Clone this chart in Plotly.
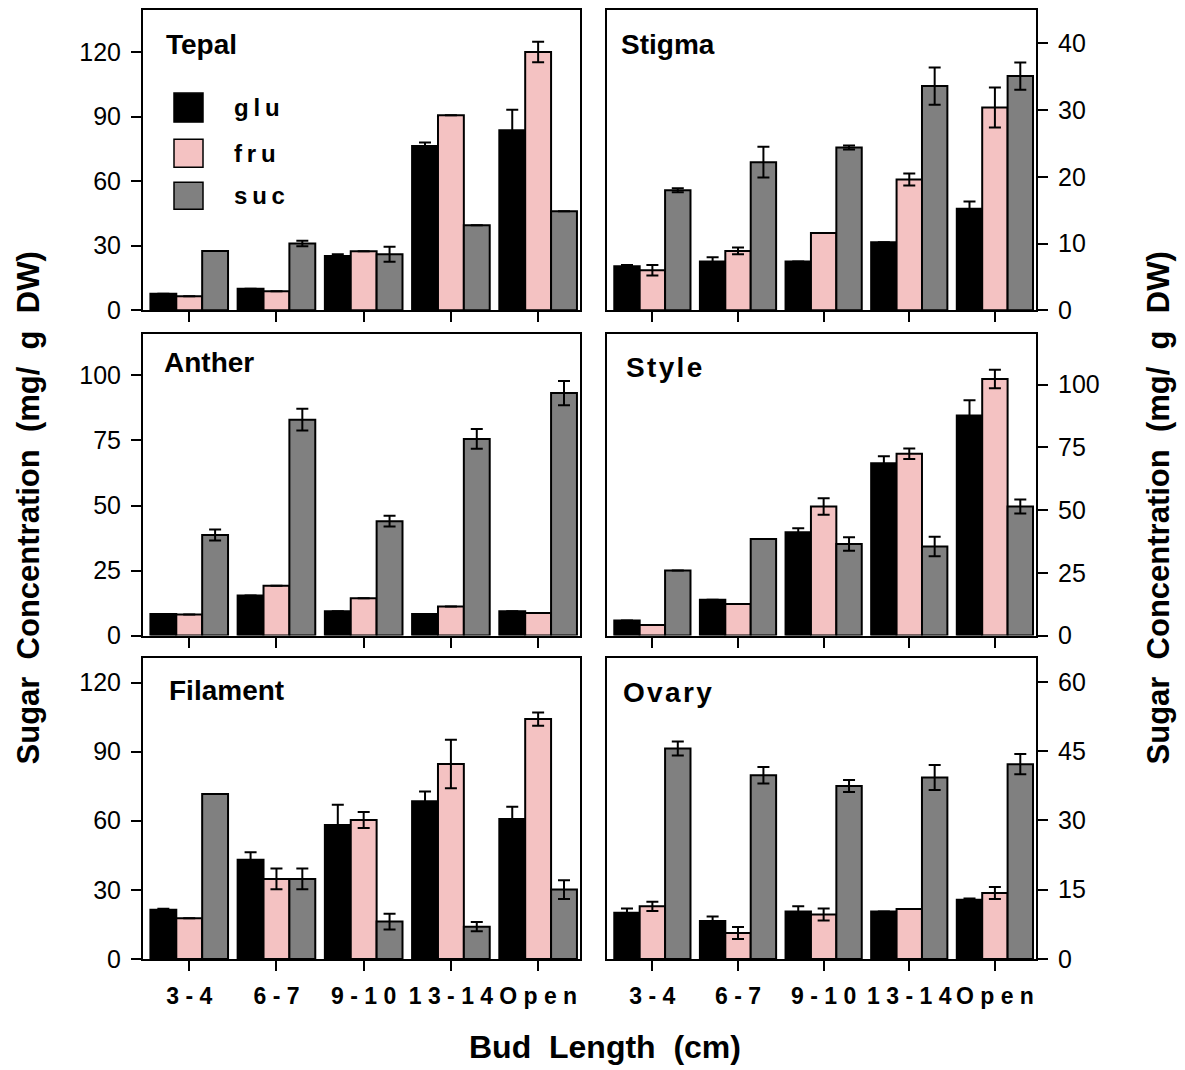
import plotly.graph_objects as go

W, H = 1185, 1070
YS = 1070 / 1055  # compensation for the observed vertical squeeze of the capture

categories = ["3-4", "6-7", "9-10", "13-14", "Open"]
tick_text = ["<b>3 - 4</b>", "<b>6 - 7</b>", "<b>9 - 1 0</b>", "<b>1 3 - 1 4</b>", "<b>O p e n</b>"]
series_names = ["glu", "fru", "suc"]

tepal_glu = [7.7, 10.0, 25.2, 76.3, 83.6]
tepal_glu_err = [None, None, 0.8, 1.7, 9.6]
tepal_fru = [6.5, 8.8, 27.4, 90.6, 120.0]
tepal_fru_err = [None, None, None, None, 4.8]
tepal_suc = [27.6, 31.0, 26.0, 39.5, 46.0]
tepal_suc_err = [None, 1.3, 3.5, None, None]

stigma_glu = [6.6, 7.3, 7.3, 10.2, 15.2]
stigma_glu_err = [0.2, 0.65, None, None, 1.1]
stigma_fru = [6.0, 8.9, 11.6, 19.6, 30.4]
stigma_fru_err = [0.8, 0.5, None, 0.9, 3.0]
stigma_suc = [18.0, 22.2, 24.4, 33.6, 35.1]
stigma_suc_err = [0.3, 2.3, 0.3, 2.8, 2.05]

anther_glu = [8.3, 15.4, 9.4, 8.3, 9.4]
anther_glu_err = [None, None, None, None, None]
anther_fru = [8.1, 19.2, 14.4, 11.2, 8.7]
anther_fru_err = [None, None, None, None, None]
anther_suc = [38.7, 83.0, 44.0, 75.6, 93.2]
anther_suc_err = [2.1, 4.2, 2.1, 3.8, 4.7]

style_glu = [6.0, 14.3, 41.2, 68.6, 87.7]
style_glu_err = [None, None, 1.6, 2.8, 6.0]
style_fru = [4.2, 12.6, 51.4, 72.4, 102.2]
style_fru_err = [None, None, 3.3, 2.1, 3.7]
style_suc = [25.9, 38.5, 36.5, 35.5, 51.4]
style_suc_err = [None, None, 2.7, 3.85, 2.8]

filament_glu = [21.3, 43.1, 58.1, 68.4, 60.7]
filament_glu_err = [0.5, 3.2, 8.8, 4.3, 5.4]
filament_fru = [17.6, 34.7, 60.3, 84.6, 104.1]
filament_fru_err = [None, 4.5, 3.5, 10.5, 2.9]
filament_suc = [71.6, 34.7, 16.2, 14.0, 30.1]
filament_suc_err = [None, 4.5, 3.4, 2.0, 4.1]

ovary_glu = [10.0, 8.2, 10.3, 10.3, 12.8]
ovary_glu_err = [0.9, 1.0, 1.1, None, 0.3]
ovary_fru = [11.4, 5.6, 9.6, 10.8, 14.3]
ovary_fru_err = [1.0, 1.3, 1.3, None, 1.3]
ovary_suc = [45.6, 39.8, 37.5, 39.3, 42.2]
ovary_suc_err = [1.5, 1.8, 1.3, 2.7, 2.2]

tepal_ticks = [0, 30, 60, 90, 120]
stigma_ticks = [0, 10, 20, 30, 40]
anther_ticks = [0, 25, 50, 75, 100]
style_ticks = [0, 25, 50, 75, 100]
filament_ticks = [0, 30, 60, 90, 120]
ovary_ticks = [0, 15, 30, 45, 60]

hs = "\u200a"
panels = [
    ("Tepal", [tepal_glu, tepal_fru, tepal_suc], [tepal_glu_err, tepal_fru_err, tepal_suc_err], tepal_ticks, 139.5),
    ("Stigma", [stigma_glu, stigma_fru, stigma_suc], [stigma_glu_err, stigma_fru_err, stigma_suc_err], stigma_ticks, 45.0),
    ("Anther", [anther_glu, anther_fru, anther_suc], [anther_glu_err, anther_fru_err, anther_suc_err], anther_ticks, 115.8),
    (hs.join("Style"), [style_glu, style_fru, style_suc], [style_glu_err, style_fru_err, style_suc_err], style_ticks, 120.0),
    ("Filament", [filament_glu, filament_fru, filament_suc], [filament_glu_err, filament_fru_err, filament_suc_err], filament_ticks, 130.8),
    (hs.join("Ovary"), [ovary_glu, ovary_fru, ovary_suc], [ovary_glu_err, ovary_fru_err, ovary_suc_err], ovary_ticks, 65.3),
]

colors = ["#000000", "#F4C2C2", "#808080"]
FONT = "Liberation Sans, Arial, Helvetica, sans-serif"

def px(x):
    return x / W

def py(y):
    return 1 - (y * YS) / H

col_px = [(143, 580), (607, 1036)]
row_px = [(10, 310), (334, 635), (657, 958)]
label_pos = [(164, 44), (619, 44), (162, 362), (624, 367), (167, 690), (621, 692)]

fig = go.Figure()
layout = dict(
    width=W, height=H, autosize=False,
    margin=dict(l=0, r=0, t=0, b=0, pad=0),
    paper_bgcolor="white", plot_bgcolor="white",
    barmode="group", bargap=0.11, bargroupgap=0,
    showlegend=False,
    font=dict(family=FONT, color="black"),
)
annotations = []
shapes = []

for i, (name, vals, errs, ticks, ymax) in enumerate(panels):
    r, c = divmod(i, 2)
    n = i + 1
    xa = "x" if n == 1 else f"x{n}"
    ya = "y" if n == 1 else f"y{n}"
    for s in range(3):
        fig.add_trace(go.Bar(
            x=categories, y=vals[s], name=series_names[s],
            xaxis=xa, yaxis=ya,
            marker=dict(color=colors[s], line=dict(color="black", width=2)),
            error_y=dict(type="data", array=errs[s], symmetric=True,
                         color="black", thickness=2, width=6),
        ))
    x0, x1 = col_px[c]
    y0, y1 = row_px[r]
    xkey = "xaxis" if n == 1 else f"xaxis{n}"
    ykey = "yaxis" if n == 1 else f"yaxis{n}"
    layout[xkey] = dict(
        domain=[px(x0), px(x1)], anchor=ya,
        type="category", categoryorder="array", categoryarray=categories,
        range=[-0.53, 4.48],
        showline=True, linecolor="black", linewidth=2, mirror=True,
        ticks="outside", ticklen=10, tickwidth=2, tickcolor="black",
        tickmode="array", tickvals=categories, ticktext=tick_text,
        showticklabels=(r == 2), ticklabelstandoff=5,
        tickfont=dict(size=23, family=FONT, color="black"),
        showgrid=False, zeroline=False, fixedrange=True,
    )
    layout[ykey] = dict(
        domain=[py(y1), py(y0)], anchor=xa,
        side="left" if c == 0 else "right",
        range=[0, ymax],
        showline=True, linecolor="black", linewidth=2, mirror=True,
        ticks="outside", ticklen=10, tickwidth=2, tickcolor="black",
        tickmode="array", tickvals=ticks, ticklabelstandoff=5,
        tickfont=dict(size=25, family=FONT, color="black"),
        showgrid=False, zeroline=False, fixedrange=True,
    )
    lx, ly = label_pos[i]
    annotations.append(dict(
        x=px(lx), y=py(ly), xref="paper", yref="paper",
        xanchor="left", yanchor="middle", showarrow=False,
        text=f"<b>{name}</b>", font=dict(size=28, family=FONT, color="black"),
    ))

# legend drawn inside the Tepal panel
legend_rows = [(93, 122), (139, 167), (182, 209)]
ts = "\u2009"
for s in range(3):
    ly0, ly1 = legend_rows[s]
    shapes.append(dict(
        type="rect", xref="paper", yref="paper",
        x0=px(174), x1=px(203), y0=py(ly1), y1=py(ly0),
        fillcolor=colors[s], line=dict(color="black", width=1.5),
    ))
    annotations.append(dict(
        x=px(232), y=py((ly0 + ly1) / 2), xref="paper", yref="paper",
        xanchor="left", yanchor="middle", showarrow=False,
        text=f"<b>{ts.join(series_names[s])}</b>", font=dict(size=24, family=FONT, color="black"),
    ))

nb = "\u00a0\u00a0"
ytitle = f"<b>Sugar{nb}Concentration{nb}(mg/{nb}g{nb}DW)</b>"
for tx in (28, 1158):
    annotations.append(dict(
        x=px(tx), y=py(508), xref="paper", yref="paper",
        xanchor="center", yanchor="middle", showarrow=False, textangle=-90,
        text=ytitle, font=dict(size=31, family=FONT, color="black"),
    ))
annotations.append(dict(
    x=px(605), y=py(1046), xref="paper", yref="paper",
    xanchor="center", yanchor="middle", showarrow=False,
    text=f"<b>Bud{nb}Length{nb}(cm)</b>", font=dict(size=32, family=FONT, color="black"),
))

layout["annotations"] = annotations
layout["shapes"] = shapes
fig.update_layout(**layout)
fig.write_html(
    "out.html",
    config={"displayModeBar": False, "responsive": False},
    default_width=f"{W}px", default_height=f"{H}px",
    post_script="document.body.style.margin='0';document.body.style.padding='0';document.body.style.overflow='hidden';",
)
